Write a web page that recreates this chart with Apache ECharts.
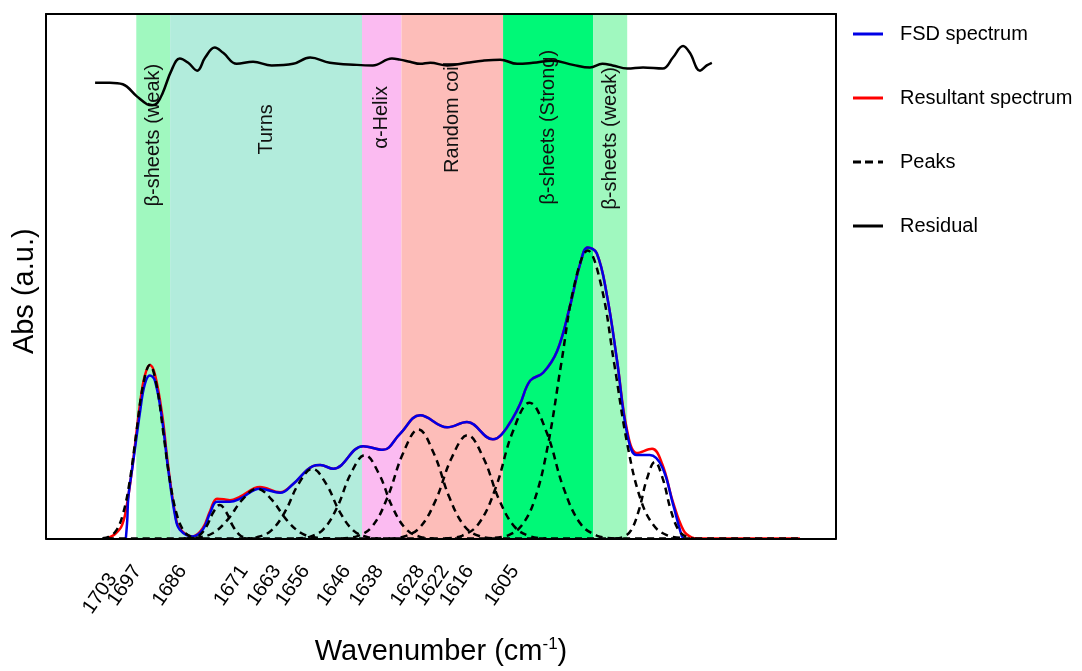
<!DOCTYPE html>
<html>
<head>
<meta charset="utf-8">
<script src="https://cdn.jsdelivr.net/npm/echarts@6/dist/echarts.min.js"></script>
<style>
  html, body { margin: 0; padding: 0; background: #fff; }
  #chart { width: 1082px; height: 671px; }
</style>
</head>
<body>
<div id="chart"></div>
<script>
// tick labels shown under the axis (wavenumbers); the first one sits a bit lower in the figure
const firstTickLabel = [1703]
const tickLabels = [1697, 1686, 1671, 1663, 1656, 1646, 1638, 1628, 1622, 1616, 1605]

// secondary structure bands
const bandNames = ['β-sheets (weak)', 'Turns', 'α-Helix', 'Random coil', 'β-sheets (Strong)', 'β-sheets (weak)']
const bandStart = [1703, 1697, 1663, 1656, 1638, 1622]
const bandEnd = [1697, 1663, 1656, 1638, 1622, 1616]
const bandLabelY = [76.9, 78.0, 80.3, 80.3, 78.4, 76.3]
const bandColors = ['#a0f8bf', '#b2ecdc', '#fbbbf1', '#fdbdb9', '#00f877', '#a0f8bf']

// [wavenumber, absorbance]
const fsdSpectrum = [
  [1704.85, 0], [1704.6, 3.5], [1704.4, 8.0], [1703.6, 14.2], [1702.3, 24.4], [1701.5, 29.4],
  [1700.6, 31.1], [1699.7, 30.1], [1698.4, 22.5], [1697.4, 13.6], [1696.1, 4.2], [1695.3, 1.7],
  [1693.0, 0.4], [1691.2, 1.7], [1689.9, 4.9], [1688.7, 7.0], [1686.4, 7.0], [1684.6, 7.6],
  [1681.1, 9.5], [1677.5, 8.7], [1675.2, 10.4], [1671.7, 13.8], [1670.4, 14.0], [1668.1, 13.3],
  [1662.8, 17.6], [1659.3, 16.9], [1656.3, 19.9], [1652.7, 23.5], [1647.9, 21.2], [1644.4, 22.2],
  [1639.8, 18.9], [1638.2, 19.9], [1636.2, 23.1], [1635.0, 25.6], [1633.2, 30.1], [1630.9, 31.6],
  [1628.4, 35.8], [1626.1, 44.5], [1624.4, 52.1], [1623.0, 55.5], [1621.4, 54.4], [1619.6, 46.4],
  [1617.8, 33.9], [1616.0, 19.9], [1614.3, 15.9], [1612.0, 15.9], [1609.8, 13.6], [1607.9, 6.6],
  [1606.3, 0.4], [1605.9, 0]
]

const resultantSpectrum = [
  [1708.2, 0], [1706.8, 0.8], [1705.5, 2.6], [1704.5, 7.5], [1703.6, 14.5], [1702.3, 26.0],
  [1701.5, 31.0], [1700.6, 33.1], [1699.7, 31.3], [1698.4, 23.5], [1697.4, 14.2], [1696.1, 4.6],
  [1695.3, 1.9], [1693.0, 0.4], [1691.2, 2.0], [1689.9, 5.3], [1688.7, 7.6], [1687.5, 7.5],
  [1686.4, 7.3], [1684.6, 8.0], [1681.1, 9.8], [1677.5, 8.8], [1675.2, 10.4], [1671.7, 13.8],
  [1670.4, 14.0], [1668.1, 13.3], [1662.8, 17.6], [1659.3, 16.9], [1656.3, 19.9], [1652.7, 23.5],
  [1647.9, 21.2], [1644.4, 22.2], [1639.8, 18.9], [1638.2, 19.9], [1636.2, 23.1], [1635.0, 25.6],
  [1633.2, 30.1], [1630.9, 31.6], [1628.4, 35.8], [1626.1, 44.5], [1624.4, 52.1], [1623.0, 55.5],
  [1621.4, 54.4], [1619.6, 46.4], [1617.8, 33.9], [1616.0, 20.5], [1614.3, 16.3], [1611.6, 17.1],
  [1609.8, 14.2], [1607.9, 7.0], [1606.0, 1.5], [1604.6, 0.2], [1603.5, 0], [1585.4, 0]
]

const residual = [
  [1710.3, 86.9], [1707.7, 86.9], [1705.4, 86.6], [1702.9, 84.3], [1701.1, 82.8], [1700.2, 82.6],
  [1699.3, 83.0], [1698.3, 85.0], [1696.7, 89.4], [1695.3, 91.5], [1693.8, 90.7], [1692.2, 89.2],
  [1690.8, 91.7], [1689.1, 93.6], [1687.6, 92.6], [1685.2, 90.5], [1682.3, 90.9], [1679.0, 90.2],
  [1675.2, 90.5], [1672.2, 91.7], [1668.7, 90.7], [1663.9, 90.3], [1661.1, 90.2], [1657.7, 91.5],
  [1656.3, 91.3], [1654.5, 90.9], [1652.7, 90.5], [1650.9, 90.7], [1647.9, 90.2], [1644.4, 90.7],
  [1641.6, 91.1], [1638.5, 91.3], [1635.5, 90.5], [1632.7, 90.7], [1629.2, 91.1], [1625.6, 90.3],
  [1622.6, 89.8], [1620.4, 90.5], [1618.6, 90.2], [1616.0, 89.6], [1613.2, 89.8], [1609.7, 89.6],
  [1607.9, 91.7], [1606.1, 93.9], [1604.9, 92.6], [1603.1, 89.2], [1601.9, 90.2], [1601.0, 90.7]
]

// fitted component peaks
const peak1 = [[1709.0, 0.07], [1707.8, 0.37], [1706.6, 1.45], [1705.4, 4.5], [1704.2, 10.7], [1703.0, 20.1], [1701.8, 29.2], [1700.6, 33.1], [1699.4, 29.2], [1698.2, 20.1], [1697.0, 10.7], [1695.8, 4.5], [1694.6, 1.45], [1693.4, 0.37], [1692.2, 0.07]]
const peak2 = [[1694.0, 0], [1692.8, 0.13], [1691.7, 0.7], [1690.5, 2.4], [1689.35, 5.0], [1688.2, 6.4], [1687.05, 5.0], [1685.9, 2.4], [1684.7, 0.7], [1683.6, 0.13], [1682.4, 0]]
const peak3 = [[1694.6, 0], [1692.0, 0.19], [1689.4, 1.05], [1686.8, 3.6], [1684.2, 7.4], [1681.6, 9.5], [1679.0, 7.4], [1676.4, 3.6], [1673.8, 1.05], [1671.2, 0.19], [1668.6, 0]]
const peak4 = [[1684.0, 0], [1681.6, 0.27], [1679.15, 1.46], [1676.7, 5.0], [1674.25, 10.4], [1671.8, 13.3], [1669.35, 10.4], [1666.9, 5.0], [1664.45, 1.46], [1662.0, 0.27], [1659.6, 0]]
const peak5 = [[1674.7, 0], [1672.3, 0.32], [1669.85, 1.75], [1667.4, 5.96], [1664.95, 12.45], [1662.5, 15.9], [1660.05, 12.45], [1657.6, 5.96], [1655.15, 1.75], [1652.7, 0.32], [1650.3, 0]]
const peak6 = [[1666.7, 0], [1663.9, 0.42], [1661.2, 2.29], [1658.5, 7.8], [1655.7, 16.3], [1653.0, 20.8], [1650.3, 16.3], [1647.5, 7.8], [1644.8, 2.29], [1642.1, 0.42], [1639.3, 0]]
const peak7 = [[1658.3, 0], [1655.5, 0.39], [1652.7, 2.17], [1649.9, 7.4], [1647.1, 15.4], [1644.3, 19.7], [1641.5, 15.4], [1638.7, 7.4], [1635.9, 2.17], [1633.1, 0.39], [1630.3, 0]]
const peak8 = [[1648.3, 0], [1645.3, 0.52], [1642.3, 2.85], [1639.3, 9.7], [1636.3, 20.3], [1633.3, 25.9], [1630.3, 20.3], [1627.3, 9.7], [1624.3, 2.85], [1621.3, 0.52], [1618.3, 0]]
const peak9 = [[1639.45, 0.12], [1637.1, 0.61], [1634.75, 2.41], [1632.4, 7.4], [1630.05, 17.8], [1627.7, 33.3], [1625.35, 48.4], [1623.0, 54.9], [1620.65, 48.4], [1618.3, 33.3], [1615.95, 17.8], [1613.6, 7.4], [1611.25, 2.41], [1608.9, 0.61], [1606.55, 0.12]]
const peak10 = [[1618.1, 0], [1616.7, 0.29], [1615.3, 1.6], [1613.9, 5.5], [1612.5, 11.4], [1611.1, 14.6], [1609.7, 11.4], [1608.3, 5.5], [1606.9, 1.6], [1605.5, 0.29], [1604.1, 0]]
const peaksBaseline = [[1708.2, 0], [1585.4, 0]]

const font = '"Liberation Sans", Arial, sans-serif'
const solidIcon = 'path://M0,0H30V3H0Z'
const dashIcon = 'path://M0,0H8V3H0Z M12,0H20V3H12Z M25,0H30V3H25Z'

const chart = echarts.init(document.getElementById('chart'))

const peakSeries = [peak1, peak2, peak3, peak4, peak5, peak6, peak7, peak8, peak9, peak10, peaksBaseline].map(d => ({
  name: 'Peaks',
  type: 'line',
  data: d,
  smooth: 0.4,
  symbol: 'none',
  z: 5,
  lineStyle: { color: '#000', width: 2.5, type: [7, 5] },
  itemStyle: { color: '#000' }
}))

const plainAxis = {
  axisTick: { show: false },
  axisLabel: { show: false },
  splitLine: { show: false }
}
const boxLine = { show: true, onZero: false, lineStyle: { color: '#000', width: 2 } }

// the tick labels sit on their own scale, offset from the data scale as in the figure
function labelAxis (values, margin) {
  return {
    type: 'value', min: 1526.7, max: 1719.3, inverse: true, position: 'bottom',
    axisLine: { show: false }, axisTick: { show: false }, splitLine: { show: false },
    axisLabel: {
      customValues: values, rotate: 55, margin: margin, fontSize: 20, color: '#000', fontFamily: font,
      hideOverlap: false, showMinLabel: true, showMaxLabel: true,
      formatter: v => String(v)
    }
  }
}

chart.setOption({
  animation: false,
  textStyle: { fontFamily: font },
  grid: { left: 46, top: 14, width: 790, height: 528 },
  legend: {
    data: [
      { name: 'FSD spectrum', icon: solidIcon },
      { name: 'Resultant spectrum', icon: solidIcon },
      { name: 'Peaks', icon: dashIcon },
      { name: 'Residual', icon: solidIcon }
    ],
    orient: 'vertical',
    left: 848,
    top: 19,
    itemWidth: 30,
    itemHeight: 3,
    itemGap: 44,
    textStyle: { fontSize: 20, color: '#000', fontFamily: font, padding: [0, 0, 0, 12] }
  },
  xAxis: [
    { type: 'value', min: 1579, max: 1719, inverse: true, position: 'bottom', axisLine: boxLine, z: 10, ...plainAxis },
    {
      ...labelAxis(tickLabels, 29),
      name: 'Wavenumber (cm{sup|-1})',
      nameLocation: 'middle',
      nameGap: 97,
      nameTextStyle: {
        fontSize: 29, color: '#000', fontFamily: font,
        rich: { sup: { fontSize: 17, color: '#000', fontFamily: font, padding: [0, 0, 15, 0] } }
      }
    },
    labelAxis(firstTickLabel, 37),
    { type: 'value', min: 1579, max: 1719, inverse: true, position: 'top', axisLine: boxLine, z: 10, ...plainAxis }
  ],
  yAxis: [
    {
      type: 'value', min: 0, max: 100, position: 'left', axisLine: boxLine, z: 10, ...plainAxis,
      name: 'Abs (a.u.)', nameLocation: 'middle', nameGap: 7,
      nameTextStyle: { fontSize: 29, color: '#000', fontFamily: font, padding: [0, 30, 0, 0] }
    },
    { type: 'value', min: 0, max: 100, position: 'right', axisLine: boxLine, z: 10, ...plainAxis }
  ],
  series: [
    {
      name: 'bands',
      type: 'line',
      data: [],
      z: 1,
      markArea: {
        silent: true,
        data: bandStart.map((s, i) => [
          { xAxis: s, itemStyle: { color: bandColors[i], opacity: 1 } },
          { xAxis: bandEnd[i] }
        ])
      },
      markPoint: {
        silent: true,
        symbol: 'circle',
        symbolSize: 1,
        itemStyle: { color: 'rgba(0,0,0,0)' },
        label: {
          show: true, position: 'inside', rotate: 90, fontSize: 20, color: '#111', fontFamily: font,
          formatter: p => p.name
        },
        data: bandNames.map((n, i) => ({ name: n, coord: [(bandStart[i] + bandEnd[i]) / 2, bandLabelY[i]] }))
      }
    },
    {
      name: 'Resultant spectrum',
      type: 'line',
      data: resultantSpectrum,
      smooth: 0.4,
      symbol: 'none',
      z: 3,
      lineStyle: { color: '#ff0000', width: 2.5 },
      itemStyle: { color: '#ff0000' }
    },
    {
      name: 'FSD spectrum',
      type: 'line',
      data: fsdSpectrum,
      smooth: 0.4,
      symbol: 'none',
      z: 4,
      lineStyle: { color: '#0000e6', width: 2.5 },
      itemStyle: { color: '#0000e6' }
    },
    ...peakSeries,
    {
      name: 'Residual',
      type: 'line',
      data: residual,
      smooth: 0.4,
      symbol: 'none',
      z: 6,
      lineStyle: { color: '#000', width: 2.5 },
      itemStyle: { color: '#000' }
    }
  ]
})
</script>
</body>
</html>
